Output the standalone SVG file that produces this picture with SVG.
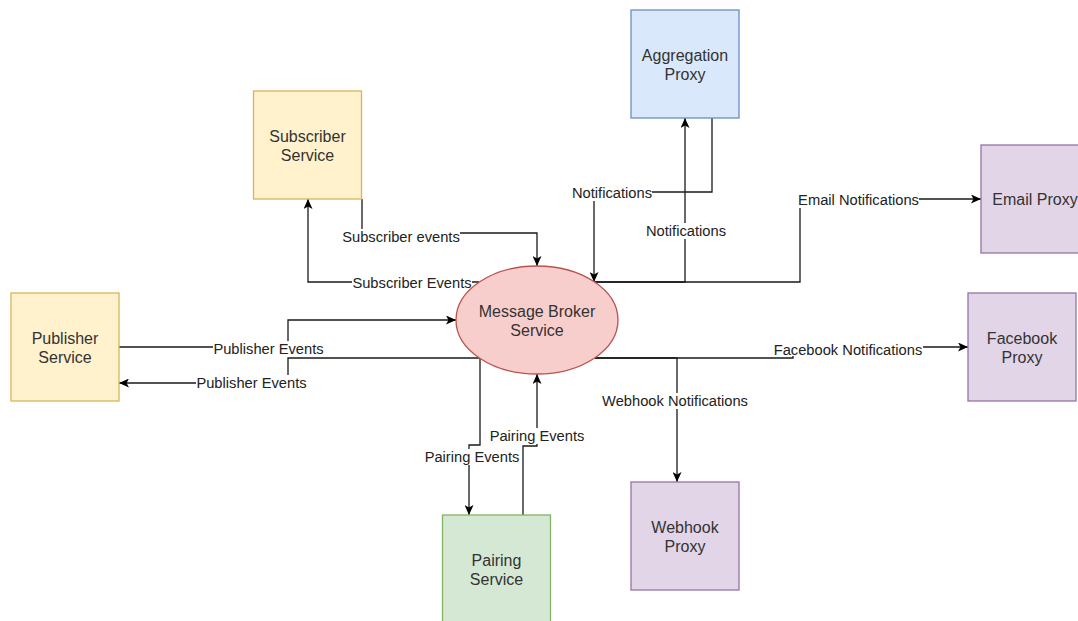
<svg xmlns="http://www.w3.org/2000/svg" width="1078" height="621" viewBox="0 0 1078 621">
  <style>
    .edge { fill: none; stroke: #1a1a1a; stroke-width: 1.3; }
    .arrow { marker-end: url(#arrowhead); }
    .lbl-bg { fill: #ffffff; }
    .lbl { font-family: "Liberation Sans", Arial, sans-serif; font-size: 14.7px; fill: #222222; text-anchor: middle; }
    .ntxt { font-family: "Liberation Sans", Arial, sans-serif; font-size: 16px; fill: #333333; text-anchor: middle; }
    .yellow { fill: #fff2cc; stroke: #d6b656; stroke-width: 1.3; }
    .blue { fill: #dae8fc; stroke: #6c8ebf; stroke-width: 1.3; }
    .green { fill: #d5e8d4; stroke: #82b366; stroke-width: 1.3; }
    .purple { fill: #e1d5e7; stroke: #9673a6; stroke-width: 1.3; }
    .red { fill: #f8cecc; stroke: #b85450; stroke-width: 1.3; }
  </style>
  <defs>
    <marker id="arrowhead" viewBox="0 0 10 9" markerWidth="10" markerHeight="9" refX="10" refY="4.5" orient="auto" markerUnits="userSpaceOnUse">
      <path d="M0,0 L10,4.5 L0,9 L2.5,4.5 Z" fill="#000000"/>
    </marker>
  </defs>

  <rect width="1078" height="621" fill="#ffffff"/>

  <!-- connectors -->
  <g id="connectors">
    <!-- subscriber -> broker -->
    <path class="edge arrow" d="M362,199 L362,233 L537,233 L537,266"/>
    <!-- broker -> subscriber -->
    <path class="edge arrow" d="M479,282 L308,282 L308,199"/>
    <!-- publisher -> broker -->
    <path class="edge arrow" d="M119,347 L288,347 L288,320 L456,320"/>
    <!-- broker -> publisher -->
    <path class="edge arrow" d="M479,358 L288,358 L288,383 L119,383"/>
    <!-- broker -> pairing -->
    <path class="edge arrow" d="M480,358 L480,445 L469,445 L469,515"/>
    <!-- pairing -> broker -->
    <path class="edge arrow" d="M523,515 L523,446 L537,446 L537,374"/>
    <!-- aggregation -> broker -->
    <path class="edge arrow" d="M712,118 L712,192 L594,192 L594,282"/>
    <!-- broker -> aggregation -->
    <path class="edge arrow" d="M594,282 L685,282 L685,118"/>
    <!-- broker -> email -->
    <path class="edge arrow" d="M594,282 L800,282 L800,199 L981,199"/>
    <!-- broker -> facebook -->
    <path class="edge arrow" d="M595,358 L793,358 L793,347 L968,347"/>
    <!-- broker -> webhook -->
    <path class="edge arrow" d="M595,358 L677,358 L677,482"/>

    <!-- edge labels -->
    <g id="edge-labels">
      <rect class="lbl-bg" x="342" y="229" width="118" height="16"/>
      <text class="lbl" x="401" y="242">Subscriber events</text>

      <rect class="lbl-bg" x="352" y="275" width="120" height="16"/>
      <text class="lbl" x="412" y="288">Subscriber Events</text>

      <rect class="lbl-bg" x="213" y="341" width="111" height="16"/>
      <text class="lbl" x="268.5" y="354">Publisher Events</text>

      <rect class="lbl-bg" x="196" y="375" width="111" height="16"/>
      <text class="lbl" x="251.5" y="388">Publisher Events</text>

      <rect class="lbl-bg" x="424" y="449" width="96" height="16"/>
      <text class="lbl" x="472" y="462">Pairing Events</text>

      <rect class="lbl-bg" x="489" y="428" width="96" height="16"/>
      <text class="lbl" x="537" y="441">Pairing Events</text>

      <rect class="lbl-bg" x="572" y="185" width="80" height="16"/>
      <text class="lbl" x="612" y="198">Notifications</text>

      <rect class="lbl-bg" x="646" y="223" width="80" height="16"/>
      <text class="lbl" x="686" y="236">Notifications</text>

      <rect class="lbl-bg" x="798" y="192" width="121" height="16"/>
      <text class="lbl" x="858.5" y="205">Email Notifications</text>

      <rect class="lbl-bg" x="773" y="341" width="150" height="15"/>
      <text class="lbl" x="848" y="354.5">Facebook Notifications</text>

      <rect class="lbl-bg" x="602" y="393" width="147" height="16"/>
      <text class="lbl" x="675" y="406">Webhook Notifications</text>
    </g>
  </g>

  <!-- nodes -->
  <g id="aggregation-proxy">
    <rect class="blue" x="631" y="10" width="108" height="108"/>
    <text class="ntxt" x="685" y="61.3">Aggregation</text>
    <text class="ntxt" x="685" y="80">Proxy</text>
  </g>

  <g id="subscriber-service">
    <rect class="yellow" x="253.5" y="91" width="108" height="108"/>
    <text class="ntxt" x="307.5" y="142.3">Subscriber</text>
    <text class="ntxt" x="307.5" y="161">Service</text>
  </g>

  <g id="publisher-service">
    <rect class="yellow" x="11" y="293" width="108" height="108"/>
    <text class="ntxt" x="65" y="344.3">Publisher</text>
    <text class="ntxt" x="65" y="363">Service</text>
  </g>

  <g id="message-broker">
    <ellipse class="red" cx="537" cy="320" rx="81" ry="54"/>
    <text class="ntxt" x="537" y="317">Message Broker</text>
    <text class="ntxt" x="537" y="336">Service</text>
  </g>

  <g id="pairing-service">
    <rect class="green" x="442.5" y="515" width="108" height="108"/>
    <text class="ntxt" x="496.5" y="566.3">Pairing</text>
    <text class="ntxt" x="496.5" y="585">Service</text>
  </g>

  <g id="email-proxy">
    <rect class="purple" x="981" y="145" width="108" height="108"/>
    <text class="ntxt" x="1035" y="205">Email Proxy</text>
  </g>

  <g id="facebook-proxy">
    <rect class="purple" x="968" y="293" width="108" height="108"/>
    <text class="ntxt" x="1022" y="344.3">Facebook</text>
    <text class="ntxt" x="1022" y="363">Proxy</text>
  </g>

  <g id="webhook-proxy">
    <rect class="purple" x="631" y="482" width="108" height="108"/>
    <text class="ntxt" x="685" y="533">Webhook</text>
    <text class="ntxt" x="685" y="551.5">Proxy</text>
  </g>
</svg>
